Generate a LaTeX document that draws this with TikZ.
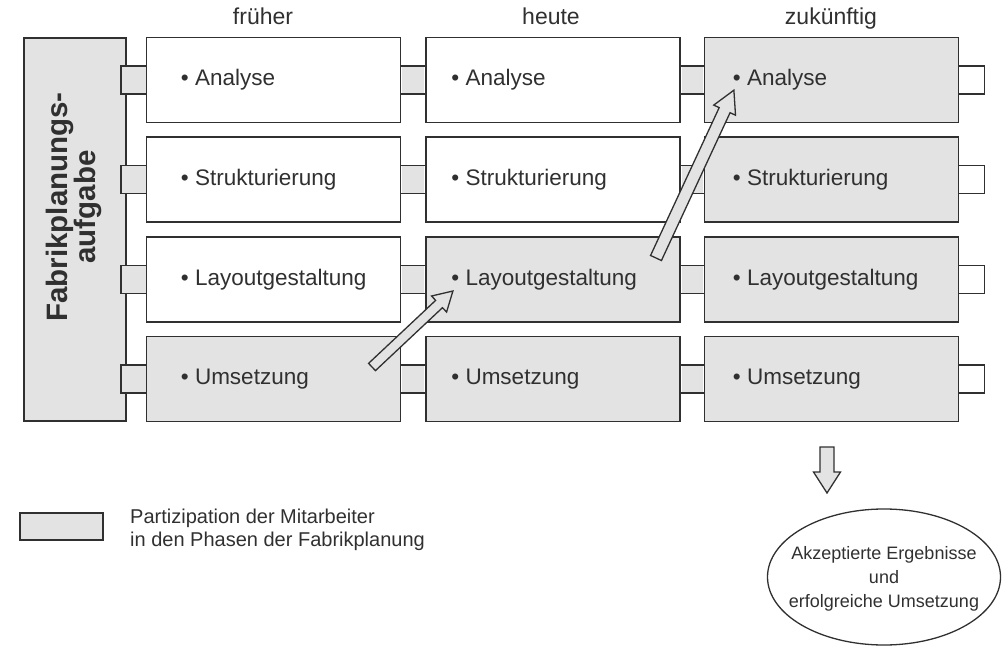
\documentclass[tikz,border=0pt]{standalone}
\usepackage{fontspec}
\setmainfont{Liberation Sans}
\usetikzlibrary{calc,shapes.geometric}
\definecolor{ink}{HTML}{303030}
\definecolor{partgray}{HTML}{E3E3E3}
\tikzset{
  pics/blockarrow/.style n args={4}{code={
    \draw[barrow] (0,-#2) -- ({#1-#4},-#2) -- ({#1-#4},-#3) -- (#1,0)
      -- ({#1-#4},#3) -- ({#1-#4},#2) -- (0,#2) -- cycle;
  }}
}
\begin{document}
\begin{tikzpicture}[x=1pt,y=1pt,
  box/.style={draw=ink, line width=1.6pt, minimum width=254pt, minimum height=85pt, inner sep=0pt},
  plain/.style={fill=white},
  part/.style={fill=partgray},
  lbl/.style={text=ink, font=\fontsize{22.5}{26}\selectfont, anchor=west, inner sep=0pt},
  stub/.style={draw=ink, line width=1.3pt, minimum width=26pt, minimum height=28pt, inner sep=0pt},
  hdr/.style={text=ink, font=\fontsize{23}{27}\selectfont, inner sep=0pt, anchor=base},
  barrow/.style={draw=ink, line width=1.3pt, fill=partgray, line join=miter},
  band/.style={draw=ink, line width=1.3pt}]
\useasboundingbox (0,0) rectangle (1004,657);

% headers
\node[hdr] (hf) at (263,632) {früher};
\node[hdr] (hh) at (551,632) {heute};
\node[hdr] (hz) at (831,632) {zukünftig};

% task block
\node[draw=ink, line width=1.6pt, fill=partgray, minimum width=102pt, minimum height=383pt, inner sep=0pt] (task) at (75,427.5) {};
\node[text=ink, rotate=90, align=center, font=\bfseries\fontsize{29.5}{28.5}\selectfont, inner sep=0pt] (tasktxt) at (74,450) {Fabrikplanungs-\\aufgabe};

% left stubs
\foreach \r/\y in {1/577,2/477.5,3/377.5,4/278}{
  \node[stub, fill=partgray] (ls\r) at (134,\y) {};
}

% boxes
\foreach \c/\x/\off/\sa/\sb/\sc/\sd in {f/273.5/35/plain/plain/plain/part, h/553/26/plain/plain/part/part, z/831.5/29/part/part/part/part}{
  \node[box, \sa] (\c1) at (\x,577) {};
  \node[box, \sb] (\c2) at (\x,477.5) {};
  \node[box, \sc] (\c3) at (\x,377.5) {};
  \node[box, \sd] (\c4) at (\x,278) {};
  \node[lbl] at ($(\c1.west)+(\off,0)$) {• Analyse};
  \node[lbl] at ($(\c2.west)+(\off,0)$) {• Strukturierung};
  \node[lbl] at ($(\c3.west)+(\off,0)$) {• Layoutgestaltung};
  \node[lbl] at ($(\c4.west)+(\off,0)$) {• Umsetzung};
}

% bands between columns
\foreach \a/\b in {f/h,h/z}{
  \foreach \r in {1,2,3,4}{
    \fill[partgray] ($(\a\r.east)+(0.8,-14)$) rectangle ($(\b\r.west)+(-0.8,14)$);
    \draw[band] ($(\a\r.east)+(0,14)$) -- ($(\b\r.west)+(0,14)$);
    \draw[band] ($(\a\r.east)+(0,-14)$) -- ($(\b\r.west)+(0,-14)$);
  }
}

% right stubs
\foreach \r in {1,2,3,4}{
  \draw[band, fill=white] ($(z\r.east)+(0,14)$) -- ++(25,0) -- ++(0,-28) -- ($(z\r.east)+(0,-14)$);
}

% participation arrows
\coordinate (a1t) at (372,290);
\coordinate (a1h) at (453,366);
\pic[rotate=43.2] at (a1t) {blockarrow={111}{5}{11}{19}};
\coordinate (a2t) at (656,399);
\coordinate (a2h) at (734,567);
\pic[rotate=65.1] at (a2t) {blockarrow={185}{6}{12}{22}};

% result
\node[draw=ink, line width=1.3pt, ellipse, minimum width=233pt, minimum height=136pt, inner sep=0pt] (res) at (884,80) {};
\node[text=ink, align=center, font=\fontsize{18}{24}\selectfont, inner sep=0pt] (restxt) at (884,78) {Akzeptierte Ergebnisse\\und\\erfolgreiche Umsetzung};
\coordinate (dt) at (827,210);
\coordinate (dh) at (827,164);
\pic[rotate=-90] at (dt) {blockarrow={46}{7}{13.5}{21}};

% legend
\node[draw=ink, line width=1.3pt, fill=partgray, minimum width=83pt, minimum height=27pt, inner sep=0pt] (leg) at (61.5,130.5) {};
\node[text=ink, anchor=west, align=left, font=\fontsize{20}{22.5}\selectfont, inner sep=0pt] (legtxt) at (130,127) {Partizipation der Mitarbeiter\\in den Phasen der Fabrikplanung};
\end{tikzpicture}
\end{document}
